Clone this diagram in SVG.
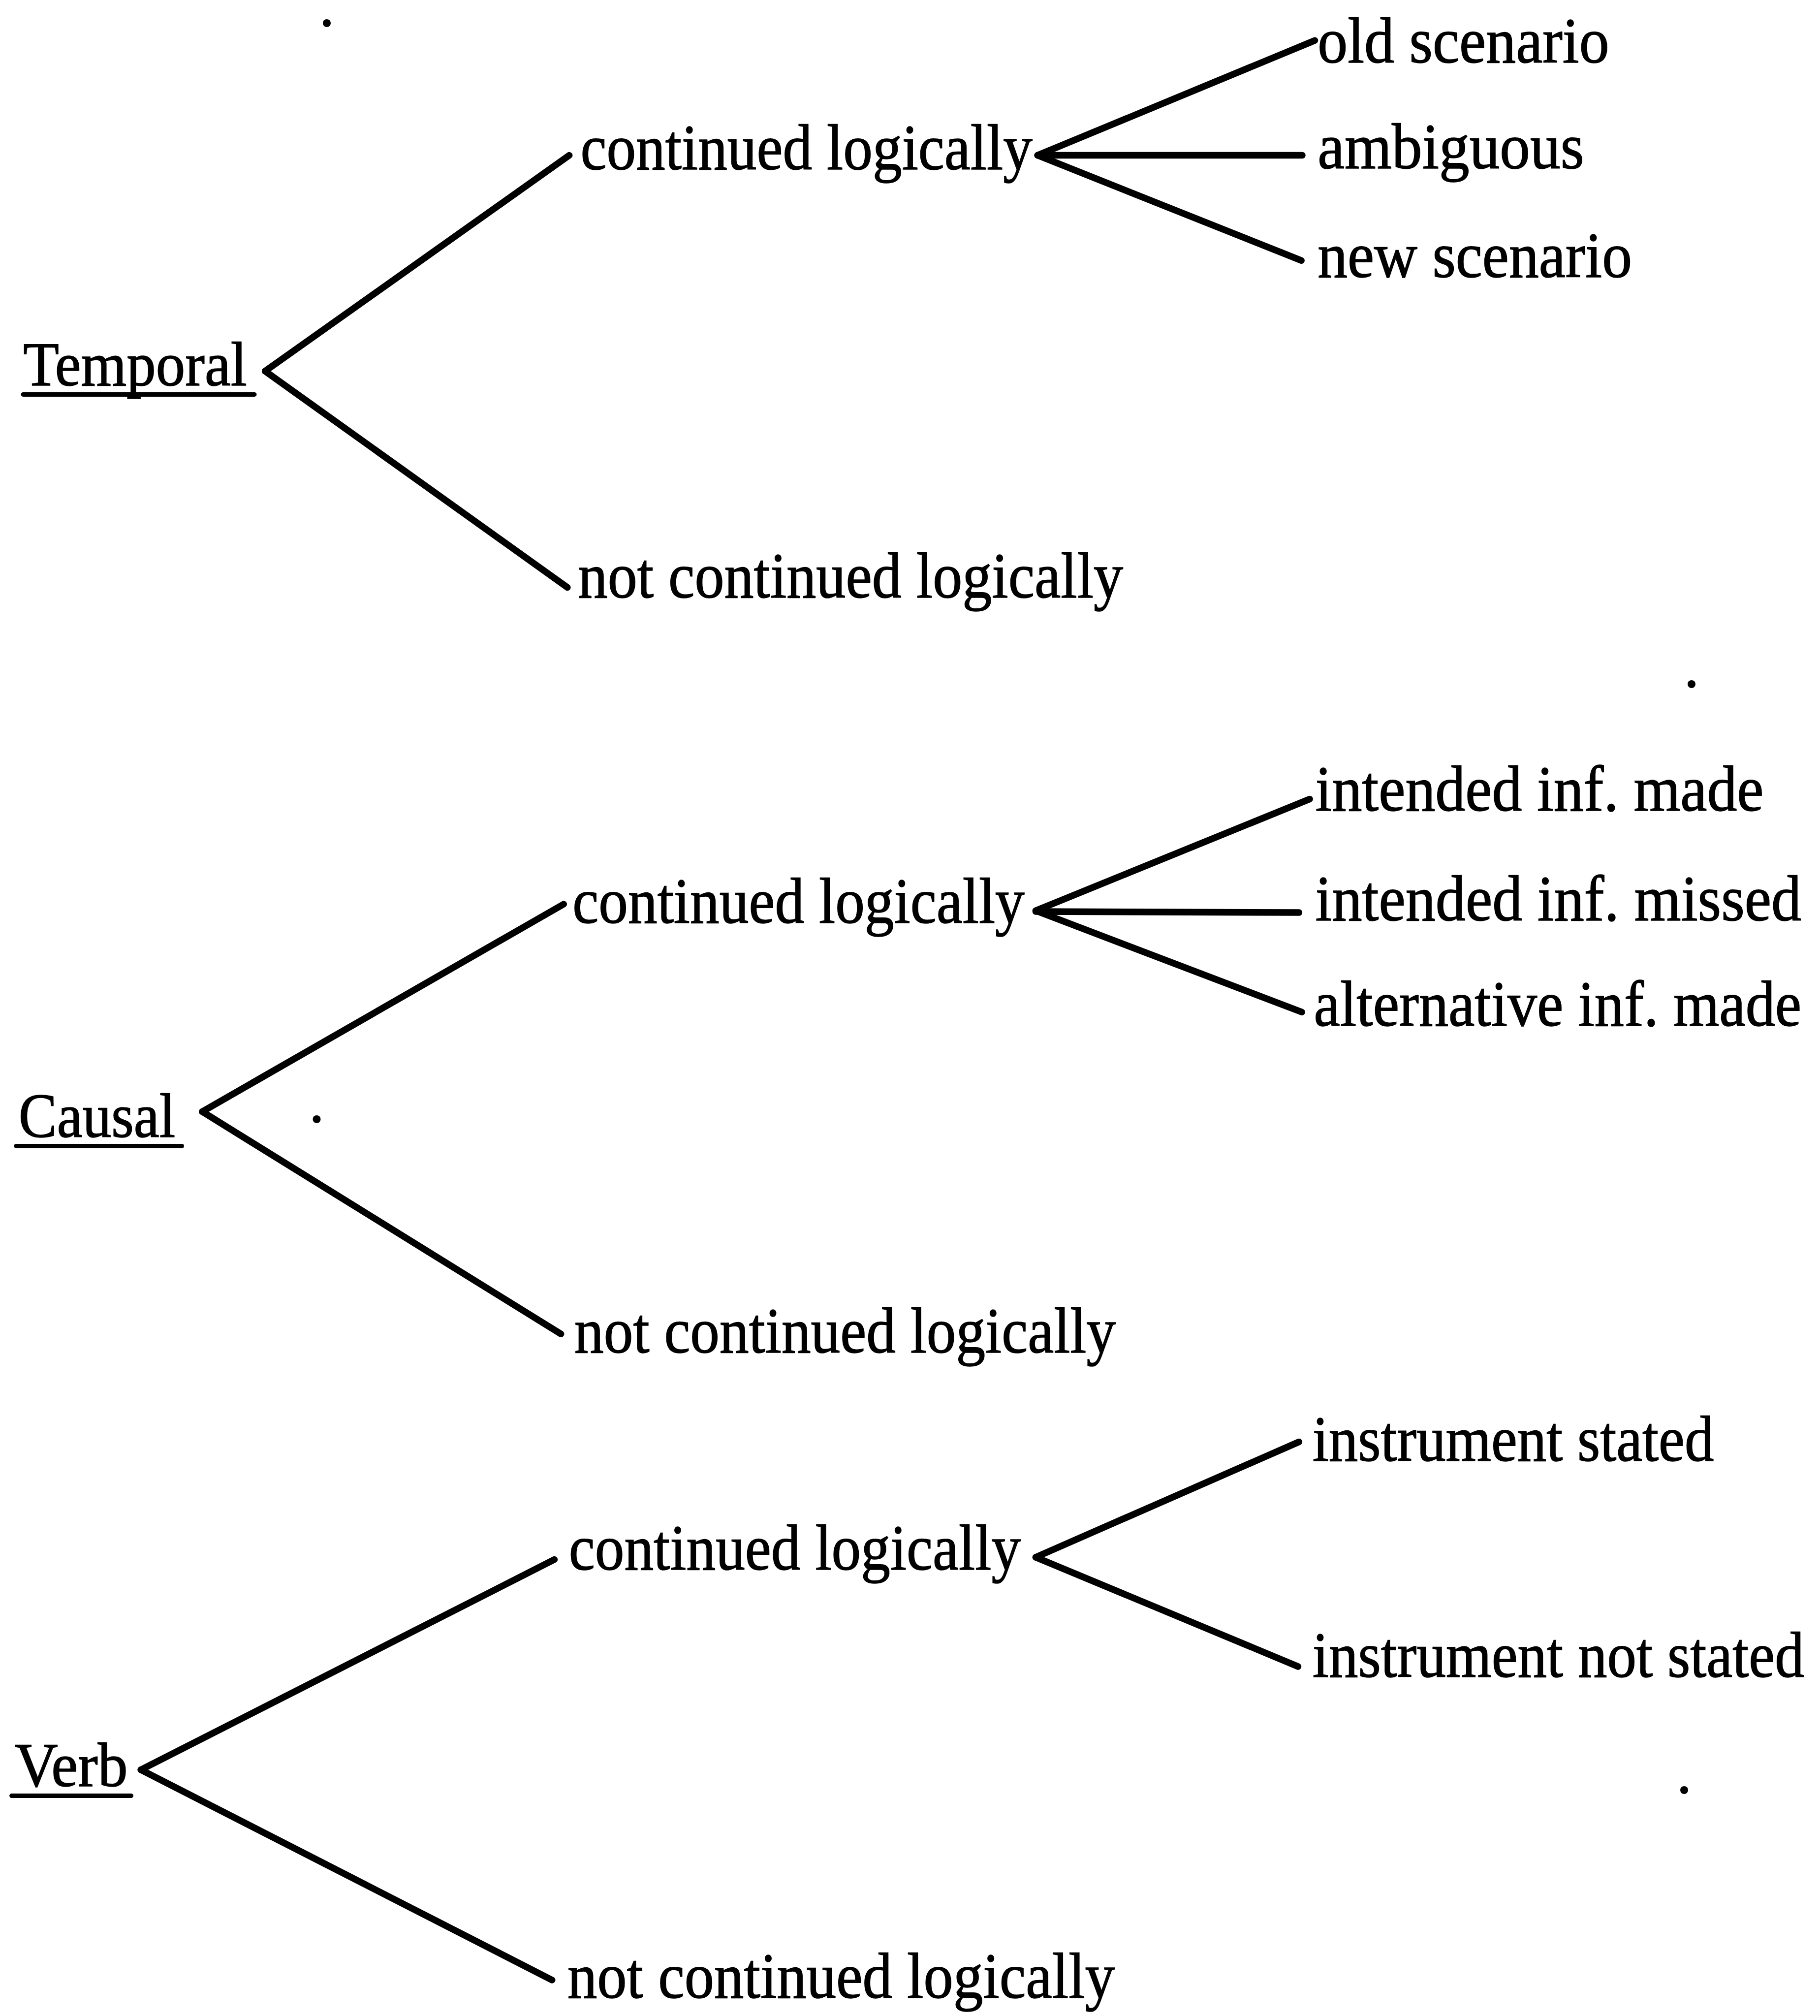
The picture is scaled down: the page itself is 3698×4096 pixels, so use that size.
<svg xmlns="http://www.w3.org/2000/svg" width="3698" height="4096" viewBox="0 0 3698 4096">
<style>
.t{font-family:"Liberation Serif","Times New Roman",serif;font-size:132px;fill:#000;stroke:#000;stroke-width:1.5}
.r{font-family:"Liberation Serif","Times New Roman",serif;font-size:127px;fill:#000;stroke:#000;stroke-width:1.5}
.c line{stroke:#000;stroke-width:13.5;stroke-linecap:round}
.u{stroke:#000;stroke-width:9;stroke-linecap:round}
.d{fill:#000}
</style>
<rect width="3698" height="4096" fill="#fff"/>
<g id="dots">
<circle class="d" cx="664" cy="47" r="8"/>
<circle class="d" cx="643.5" cy="2274" r="8"/>
<circle class="d" cx="3437" cy="1390" r="8"/>
<circle class="d" cx="3422" cy="3637" r="8"/>
</g>
<g id="connectors" class="c">
<line x1="538.7" y1="754.1" x2="1156.7" y2="315.6"/>
<line x1="538.7" y1="754.1" x2="1152.9" y2="1193.5"/>
<line x1="2108.3" y1="315.6" x2="2671.5" y2="82.2"/>
<line x1="2108.3" y1="315.6" x2="2646" y2="315.6"/>
<line x1="2108.3" y1="315.6" x2="2644.1" y2="529.2"/>
<line x1="411" y1="2258.6" x2="1145.3" y2="1837"/>
<line x1="411" y1="2258.6" x2="1139.7" y2="2710.3"/>
<line x1="2104.5" y1="1850.3" x2="2661.1" y2="1623.5"/>
<line x1="2104.5" y1="1852" x2="2639.4" y2="1854.1"/>
<line x1="2104.5" y1="1850.3" x2="2645.1" y2="2056.3"/>
<line x1="286.3" y1="3595.7" x2="1126.4" y2="3168.6"/>
<line x1="286.3" y1="3595.7" x2="1121.7" y2="4022.9"/>
<line x1="2104.5" y1="3163.9" x2="2639.4" y2="2929.5"/>
<line x1="2104.5" y1="3163.9" x2="2637.5" y2="3385.9"/>
</g>
<g id="temporal">
<text class="r" transform="translate(47.3,783.4) scale(0.91,1)" textLength="499.5" lengthAdjust="spacingAndGlyphs">Temporal</text>
<line class="u" x1="47" y1="801.4" x2="517" y2="801.4"/>
</g>
<g id="temporal-continued">
<text class="t" transform="translate(1179.4,344) scale(0.91,1)" textLength="1009.3" lengthAdjust="spacingAndGlyphs">continued logically</text>
</g>
<g id="temporal-old">
<text class="t" transform="translate(2677.2,126.6) scale(0.91,1)" textLength="651.1" lengthAdjust="spacingAndGlyphs">old scenario</text>
</g>
<g id="temporal-ambiguous">
<text class="t" transform="translate(2677.2,342.1) scale(0.91,1)" textLength="595.1" lengthAdjust="spacingAndGlyphs">ambiguous</text>
</g>
<g id="temporal-new">
<text class="t" transform="translate(2677.2,563.2) scale(0.91,1)" textLength="702" lengthAdjust="spacingAndGlyphs">new scenario</text>
</g>
<g id="temporal-not">
<text class="t" transform="translate(1174.6,1214.3) scale(0.91,1)" textLength="1217" lengthAdjust="spacingAndGlyphs">not continued logically</text>
</g>
<g id="causal">
<text class="r" transform="translate(37.8,2309.6) scale(0.91,1)" textLength="350" lengthAdjust="spacingAndGlyphs">Causal</text>
<line class="u" x1="33" y1="2328.5" x2="369.5" y2="2328.5"/>
</g>
<g id="causal-continued">
<text class="t" transform="translate(1163.3,1874.9) scale(0.91,1)" textLength="1009.3" lengthAdjust="spacingAndGlyphs">continued logically</text>
</g>
<g id="causal-made">
<text class="t" transform="translate(2672.5,1647.1) scale(0.91,1)" textLength="1001.1" lengthAdjust="spacingAndGlyphs">intended inf. made</text>
</g>
<g id="causal-missed">
<text class="t" transform="translate(2672.5,1870.2) scale(0.91,1)" textLength="1085.2" lengthAdjust="spacingAndGlyphs">intended inf. missed</text>
</g>
<g id="causal-alternative">
<text class="t" transform="translate(2669.6,2083.7) scale(0.91,1)" textLength="1088.4" lengthAdjust="spacingAndGlyphs">alternative inf. made</text>
</g>
<g id="causal-not">
<text class="t" transform="translate(1167.1,2748.1) scale(0.91,1)" textLength="1208.8" lengthAdjust="spacingAndGlyphs">not continued logically</text>
</g>
<g id="verb">
<text class="r" transform="translate(29.8,3628.8) scale(0.91,1)" textLength="252.7" lengthAdjust="spacingAndGlyphs">Verb</text>
<line class="u" x1="23.6" y1="3648.6" x2="266.5" y2="3648.6"/>
</g>
<g id="verb-continued">
<text class="t" transform="translate(1155.7,3189.4) scale(0.91,1)" textLength="1009.3" lengthAdjust="spacingAndGlyphs">continued logically</text>
</g>
<g id="verb-stated">
<text class="t" transform="translate(2666.8,2968.2) scale(0.91,1)" textLength="896.2" lengthAdjust="spacingAndGlyphs">instrument stated</text>
</g>
<g id="verb-notstated">
<text class="t" transform="translate(2666.8,3406.7) scale(0.91,1)" textLength="1097.7" lengthAdjust="spacingAndGlyphs">instrument not stated</text>
</g>
<g id="verb-not">
<text class="t" transform="translate(1152.9,4058.8) scale(0.91,1)" textLength="1222.3" lengthAdjust="spacingAndGlyphs">not continued logically</text>
</g>
</svg>
